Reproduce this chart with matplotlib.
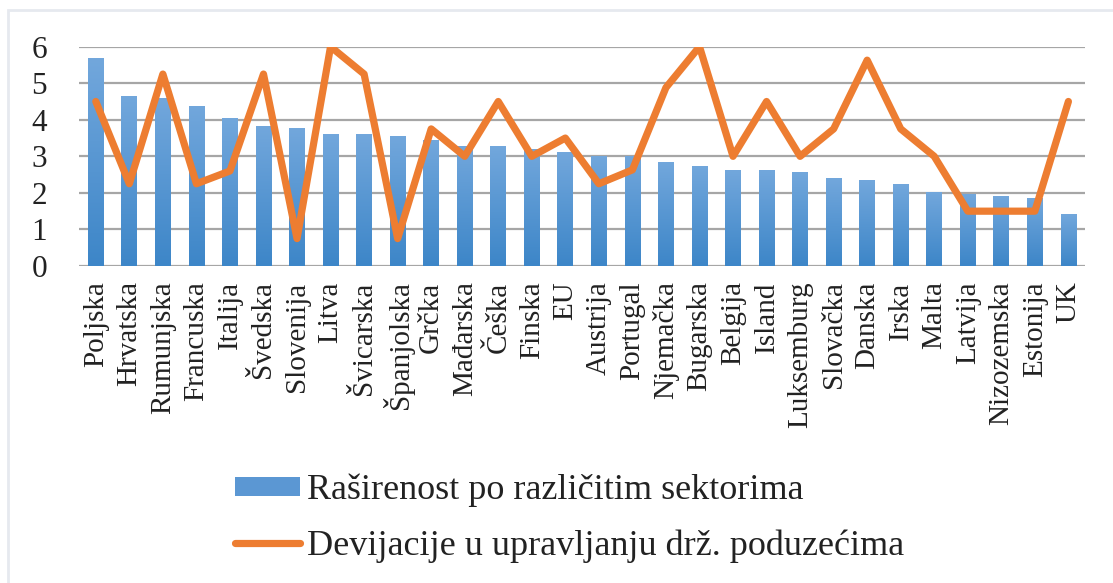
import numpy as np
import matplotlib
matplotlib.use("Agg")
import matplotlib.pyplot as plt
from matplotlib.patches import Rectangle
from matplotlib.lines import Line2D
from matplotlib.colors import LinearSegmentedColormap

# podaci
countries = ['Poljska', 'Hrvatska', 'Rumunjska', 'Francuska', 'Italija', 'Švedska',
             'Slovenija', 'Litva', 'Švicarska', 'Španjolska', 'Grčka', 'Mađarska',
             'Češka', 'Finska', 'EU', 'Austrija', 'Portugal', 'Njemačka', 'Bugarska',
             'Belgija', 'Island', 'Luksemburg', 'Slovačka', 'Danska', 'Irska', 'Malta',
             'Latvija', 'Nizozemska', 'Estonija', 'UK']

rasirenost = [5.68, 4.65, 4.59, 4.38, 4.04, 3.83, 3.77, 3.61, 3.61, 3.56, 3.45, 3.29,
              3.28, 3.2, 3.11, 3.01, 3.01, 2.84, 2.74, 2.62, 2.62, 2.56, 2.40, 2.34,
              2.23, 2.02, 1.97, 1.91, 1.85, 1.41]

devijacije = [4.5, 2.25, 5.25, 2.25, 2.6, 5.25, 0.75, 6.0, 5.25, 0.75, 3.75, 3.0,
              4.5, 3.0, 3.5, 2.25, 2.63, 4.88, 6.0, 3.0, 4.5, 3.0, 3.75, 5.63, 3.75,
              3.0, 1.5, 1.5, 1.5, 4.5]

yticks = [0, 1, 2, 3, 4, 5, 6]

label_bar = 'Raširenost po različitim sektorima'
label_line = 'Devijacije u upravljanju drž. poduzećima'

plt.rcParams['font.family'] = ['Liberation Serif', 'DejaVu Serif']
txt_color = '#222222'
bar_top = '#72a7dc'
bar_bottom = '#3d86c8'
orange = '#ed7d31'

fig = plt.figure(figsize=(11.13, 5.83), dpi=100)
ax = fig.add_axes([0.071, 0.5437, 0.904, 0.3763])

x = np.arange(len(countries))
width = 0.47

# stupci s gradijentom (svjetlije gore, tamnije dolje)
cmap = LinearSegmentedColormap.from_list('bar', [bar_bottom, bar_top])
grad = np.linspace(0, 1, 100).reshape(-1, 1)
bars = ax.bar(x, rasirenost, width=width, color='none', zorder=2)
for b in bars:
    x0, y0 = b.get_x(), b.get_y()
    w, h = b.get_width(), b.get_height()
    im = ax.imshow(grad, extent=[x0, x0 + w, y0, y0 + h], origin='lower',
                   aspect='auto', cmap=cmap, zorder=2)
    im.set_clip_path(b)

ax.plot(x, devijacije, color=orange, lw=5.2, solid_joinstyle='round',
        solid_capstyle='round', zorder=3)

ax.set_xlim(-0.5, len(countries) - 0.5)
ax.set_ylim(0, 6)
ax.set_yticks(yticks)
ax.set_xticks(x)
ax.set_xticklabels(countries, rotation=90, fontsize=21, color=txt_color)
ax.tick_params(axis='y', length=0, pad=23, labelsize=22.5, labelcolor=txt_color)
ax.tick_params(axis='x', length=0, pad=11)
ax.grid(axis='y', color='#a6a6a6', lw=1.6, zorder=1)
ax.set_axisbelow(True)
for s in ax.spines.values():
    s.set_visible(False)

# legenda
handles = [Rectangle((0, 0), 1, 1, facecolor='#5b97d3'),
           Line2D([0], [0], color=orange, lw=5.2, solid_capstyle='round')]
fig.legend(handles, [label_bar, label_line], loc='upper left',
           bbox_to_anchor=(0.1946, 0.218), frameon=False, fontsize=26,
           handlelength=1.8, handleheight=0.45, handletextpad=0.2,
           labelspacing=0.6, labelcolor=txt_color, borderpad=0)

# okvir grafikona
fig.patches.append(Rectangle((8 / 1113, -0.05), 1.2, 1 - 10 / 583 + 0.05,
                             transform=fig.transFigure, fill=False,
                             edgecolor='#e6e9ef', lw=2))

fig.savefig('out.png', dpi=100)
